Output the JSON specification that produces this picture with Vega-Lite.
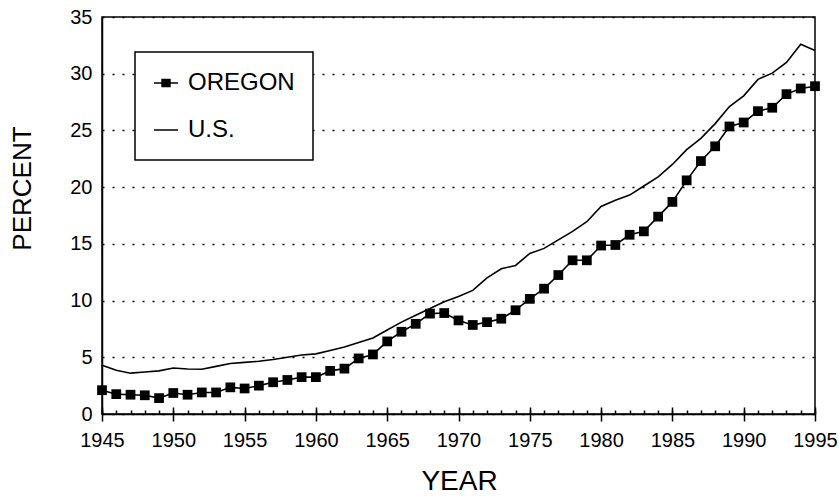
{
  "$schema": "https://vega.github.io/schema/vega-lite/v6.json",
  "width": 713,
  "height": 397,
  "autosize": {"type": "none"},
  "padding": {"left": 102, "top": 17, "right": 24, "bottom": 82},
  "background": "white",
  "config": {
    "font": "Liberation Sans",
    "view": {"stroke": "black", "strokeWidth": 1.5},
    "axis": {
      "labelFont": "Liberation Sans",
      "titleFont": "Liberation Sans",
      "labelColor": "black",
      "titleColor": "black",
      "tickColor": "black",
      "domainColor": "black",
      "domainWidth": 1.5,
      "tickWidth": 1.5,
      "labelFontSize": 20,
      "titleFontWeight": "normal"
    }
  },
  "data": {
    "values": [
      {"year": 1945, "oregon": 2.1, "us": 4.3},
      {"year": 1946, "oregon": 1.75, "us": 3.85},
      {"year": 1947, "oregon": 1.7, "us": 3.6},
      {"year": 1948, "oregon": 1.65, "us": 3.7},
      {"year": 1949, "oregon": 1.4, "us": 3.8},
      {"year": 1950, "oregon": 1.85, "us": 4.05},
      {"year": 1951, "oregon": 1.7, "us": 3.97},
      {"year": 1952, "oregon": 1.9, "us": 3.95},
      {"year": 1953, "oregon": 1.9, "us": 4.2},
      {"year": 1954, "oregon": 2.35, "us": 4.45},
      {"year": 1955, "oregon": 2.25, "us": 4.55},
      {"year": 1956, "oregon": 2.5, "us": 4.65},
      {"year": 1957, "oregon": 2.8, "us": 4.8},
      {"year": 1958, "oregon": 3.0, "us": 5.0},
      {"year": 1959, "oregon": 3.25, "us": 5.2},
      {"year": 1960, "oregon": 3.25, "us": 5.3},
      {"year": 1961, "oregon": 3.8, "us": 5.6},
      {"year": 1962, "oregon": 4.0, "us": 5.9},
      {"year": 1963, "oregon": 4.9, "us": 6.3},
      {"year": 1964, "oregon": 5.25, "us": 6.7},
      {"year": 1965, "oregon": 6.4, "us": 7.4},
      {"year": 1966, "oregon": 7.25, "us": 8.1},
      {"year": 1967, "oregon": 7.95, "us": 8.7},
      {"year": 1968, "oregon": 8.85, "us": 9.3},
      {"year": 1969, "oregon": 8.9, "us": 9.9},
      {"year": 1970, "oregon": 8.25, "us": 10.35},
      {"year": 1971, "oregon": 7.85, "us": 10.9},
      {"year": 1972, "oregon": 8.1, "us": 12.0},
      {"year": 1973, "oregon": 8.4, "us": 12.8},
      {"year": 1974, "oregon": 9.15, "us": 13.1},
      {"year": 1975, "oregon": 10.15, "us": 14.15},
      {"year": 1976, "oregon": 11.05, "us": 14.6},
      {"year": 1977, "oregon": 12.25, "us": 15.35},
      {"year": 1978, "oregon": 13.55, "us": 16.1},
      {"year": 1979, "oregon": 13.55, "us": 16.95},
      {"year": 1980, "oregon": 14.85, "us": 18.3},
      {"year": 1981, "oregon": 14.9, "us": 18.85},
      {"year": 1982, "oregon": 15.8, "us": 19.3},
      {"year": 1983, "oregon": 16.1, "us": 20.1},
      {"year": 1984, "oregon": 17.4, "us": 20.9},
      {"year": 1985, "oregon": 18.7, "us": 22.0},
      {"year": 1986, "oregon": 20.6, "us": 23.3},
      {"year": 1987, "oregon": 22.3, "us": 24.3},
      {"year": 1988, "oregon": 23.6, "us": 25.6},
      {"year": 1989, "oregon": 25.35, "us": 27.1},
      {"year": 1990, "oregon": 25.7, "us": 28.05},
      {"year": 1991, "oregon": 26.7, "us": 29.5},
      {"year": 1992, "oregon": 27.0, "us": 30.05},
      {"year": 1993, "oregon": 28.2, "us": 31.0},
      {"year": 1994, "oregon": 28.7, "us": 32.6},
      {"year": 1995, "oregon": 28.9, "us": 32.05}
    ]
  },
  "layer": [
    {
      "mark": {"type": "line", "strokeWidth": 1.6},
      "encoding": {
        "x": {
          "field": "year",
          "type": "quantitative",
          "scale": {"domain": [1945, 1995], "nice": false, "zero": false},
          "axis": {
            "orient": "bottom",
            "title": "YEAR",
            "values": [1945, 1950, 1955, 1960, 1965, 1970, 1975, 1980, 1985, 1990, 1995],
            "format": "d",
            "grid": false,
            "tickSize": 7,
            "labelPadding": 9,
            "labelFlush": false,
            "labelOverlap": false,
            "titleFontSize": 28,
            "titleBaseline": "alphabetic",
            "titleX": 357,
            "titleY": 75
          }
        },
        "y": {
          "field": "us",
          "type": "quantitative",
          "scale": {"domain": [0, 35], "nice": false},
          "axis": {
            "title": "PERCENT",
            "values": [0, 5, 10, 15, 20, 25, 30, 35],
            "grid": true,
            "gridDash": [2, 8],
            "gridColor": "black",
            "gridWidth": 1.5,
            "gridOpacity": 1,
            "tickSize": 0,
            "labelPadding": 10,
            "labelFlush": false,
            "labelOverlap": false,
            "titleFontSize": 26,
            "titleBaseline": "alphabetic",
            "titleX": -72,
            "titleY": 171
          }
        },
        "color": {
          "datum": "U.S.",
          "type": "nominal",
          "scale": {"domain": ["OREGON", "U.S."], "range": ["black", "black"]},
          "legend": {
            "orient": "none",
            "legendX": 33,
            "legendY": 35,
            "title": null,
            "padding": 18,
            "strokeColor": "black",
            "fillColor": "white",
            "labelFont": "Liberation Sans",
            "labelFontSize": 24,
            "labelColor": "black",
            "labelOffset": 9,
            "symbolSize": 576,
            "symbolStrokeWidth": 1.5,
            "symbolFillColor": "black",
            "symbolStrokeColor": "black",
            "rowPadding": 22,
            "encode": {
              "legend": {"update": {"strokeWidth": {"value": 1.5}}},
              "symbols": {
                "update": {
                  "shape": {"signal": "datum.value === 'OREGON' ? 'M-1,0H1M-0.33,-0.3H0.33V0.3H-0.33Z' : 'M-1,0H1'"},
                  "fill": {"value": "black"},
                  "stroke": {"value": "black"},
                  "strokeWidth": {"value": 1.5}
                }
              }
            }
          }
        }
      }
    },
    {
      "mark": {"type": "line", "strokeWidth": 1.6},
      "encoding": {
        "x": {
          "field": "year",
          "type": "quantitative",
          "axis": {
            "orient": "bottom",
            "title": null,
            "values": [1945,1946,1947,1948,1949,1950,1951,1952,1953,1954,1955,1956,1957,1958,1959,1960,1961,1962,1963,1964,1965,1966,1967,1968,1969,1970,1971,1972,1973,1974,1975,1976,1977,1978,1979,1980,1981,1982,1983,1984,1985,1986,1987,1988,1989,1990,1991,1992,1993,1994,1995],
            "labels": false,
            "domain": false,
            "grid": false,
            "tickSize": -4
          }
        },
        "y": {"field": "oregon", "type": "quantitative", "axis": null},
        "color": {"datum": "OREGON", "type": "nominal"}
      }
    },
    {
      "mark": {"type": "point", "shape": "square", "filled": true, "size": 95, "color": "black", "opacity": 1},
      "encoding": {
        "x": {
          "field": "year",
          "type": "quantitative",
          "axis": {
            "orient": "bottom",
            "title": null,
            "values": [1945, 1950, 1955, 1960, 1965, 1970, 1975, 1980, 1985, 1990, 1995],
            "labels": false,
            "domain": false,
            "grid": false,
            "tickSize": -7
          }
        },
        "y": {"field": "oregon", "type": "quantitative", "axis": null}
      }
    }
  ],
  "resolve": {"axis": {"x": "independent", "y": "independent"}}
}
